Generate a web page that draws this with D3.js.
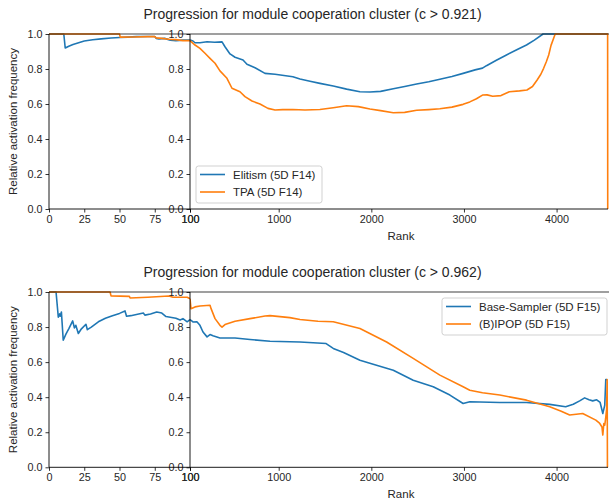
<!DOCTYPE html>
<html>
<head>
<meta charset="utf-8">
<script src="https://cdn.jsdelivr.net/npm/d3@7"></script>
<style>
  body { margin: 0; background: #fff; }
  text { font-family: "Liberation Sans", Arial, Helvetica, sans-serif; fill: #262626; }
</style>
</head>
<body>
<svg id="chart" width="609" height="504"></svg>
<script>
// ---- data ----
const leftTicks = [0, 25, 50, 75, 100];
const rightTicks = [100, 1000, 2000, 3000, 4000];
const yTicks = [0, 0.2, 0.4, 0.6, 0.8, 1.0];
const rankMax = 4555;

const titleTop = "Progression for module cooperation cluster (c > 0.921)";
const titleBottom = "Progression for module cooperation cluster (c > 0.962)";
const seriesNamesTop = ["Elitism (5D F14)", "TPA (5D F14)"];
const seriesNamesBottom = ["Base-Sampler (5D F15)", "(B)IPOP (5D F15)"];

const elitismRanks = [0, 10.5, 11.5, 14, 17, 21, 25, 31, 37, 44, 50, 56, 62, 70, 75, 76, 78, 82, 86, 90, 95, 100,
  130, 151, 201, 273, 350, 425, 455, 506, 557, 638, 678, 760, 861, 963, 1153, 1230, 1338, 1445, 1589, 1733, 1877,
  1985, 2100, 2237, 2360, 2489, 2620, 2740, 2870, 2991, 3120, 3200, 3243, 3350, 3459, 3570, 3675, 3760, 3854, 4555];
const elitismValues = [1, 1, 0.92, 0.93, 0.94, 0.95, 0.96, 0.967, 0.972, 0.977, 0.98, 0.982, 0.985, 0.986, 0.986, 0.975, 0.972, 0.975, 0.965, 0.962, 0.965, 0.966,
  0.96, 0.95, 0.95, 0.956, 0.953, 0.955, 0.927, 0.886, 0.867, 0.851, 0.827, 0.807, 0.775, 0.77, 0.756, 0.743, 0.73, 0.718, 0.703, 0.685, 0.67,
  0.669, 0.672, 0.687, 0.70, 0.714, 0.727, 0.741, 0.757, 0.775, 0.795, 0.805, 0.819, 0.85, 0.88, 0.91, 0.937, 0.965, 1.0, 1.0];

const tpaRanks = [0, 50, 50.5, 60, 70, 75, 76, 80, 85, 90, 95, 100,
  151, 201, 252, 303, 354, 404, 475, 526, 607, 658, 729, 810, 891, 963, 1043, 1153, 1284, 1445, 1589, 1733, 1860, 1985,
  2100, 2237, 2360, 2489, 2620, 2740, 2870, 2991, 3063, 3135, 3200, 3250, 3310, 3400, 3490, 3600, 3680, 3740, 3790,
  3830, 3860, 3888, 3915, 3940, 3985, 4551, 4552];
const tpaValues = [1, 1, 0.982, 0.983, 0.985, 0.985, 0.978, 0.975, 0.97, 0.968, 0.962, 0.962,
  0.937, 0.918, 0.89, 0.861, 0.833, 0.789, 0.747, 0.69, 0.67, 0.642, 0.617, 0.60, 0.575, 0.566, 0.568, 0.569, 0.566, 0.569, 0.579, 0.59, 0.585, 0.571,
  0.562, 0.55, 0.552, 0.564, 0.568, 0.573, 0.582, 0.598, 0.612, 0.63, 0.651, 0.652, 0.644, 0.648, 0.67, 0.675, 0.68, 0.70, 0.737,
  0.77, 0.804, 0.84, 0.88, 0.935, 1.0, 1.0, 0];

const baseRanks = [0, 5, 6.6, 7.5, 8, 8.8, 10.1, 12, 14, 16.8, 18, 19, 20.8, 23, 26.2, 27.2, 30, 35, 40, 45, 50, 53.9, 55, 58, 62,
  66.9, 68, 72, 76.4, 80, 83, 87, 90, 93, 95, 98, 100,
  130, 170, 201, 232, 273, 303, 333, 404, 557, 709, 912, 1230, 1512, 1589, 1700, 1877, 2020,
  2237, 2452, 2560, 2668, 2848, 2991, 3063, 3387, 3675, 3926, 4098, 4180, 4249, 4303, 4350, 4390, 4433, 4470, 4499, 4520, 4531, 4545];
const baseValues = [1, 1, 0.856, 0.875, 0.862, 0.886, 0.725, 0.76, 0.79, 0.835, 0.795, 0.81, 0.763, 0.79, 0.816, 0.785, 0.80, 0.83, 0.85, 0.865, 0.878, 0.892, 0.862, 0.865, 0.872,
  0.88, 0.868, 0.875, 0.886, 0.88, 0.86, 0.855, 0.85, 0.84, 0.848, 0.83, 0.843,
  0.829, 0.83, 0.81, 0.772, 0.744, 0.757, 0.75, 0.738, 0.738, 0.729, 0.719, 0.715, 0.706, 0.678, 0.655, 0.611, 0.588,
  0.554, 0.497, 0.478, 0.459, 0.412, 0.364, 0.374, 0.37, 0.37, 0.359, 0.345, 0.36, 0.379, 0.396, 0.385, 0.379, 0.385, 0.37, 0.307, 0.355, 0.5, 0.5];

const ipopRanks = [0, 43.3, 44, 57, 57.5, 70, 85, 88, 98, 100,
  110, 151, 201, 303, 314, 354, 404, 425, 455, 557, 709, 861, 912, 1120, 1230, 1424, 1589, 1877, 2165, 2452, 2740, 2991, 3063, 3200,
  3387, 3675, 3926, 4050, 4141, 4282, 4424, 4466, 4490, 4499, 4510, 4520, 4530, 4540, 4546, 4549];
const ipopValues = [1, 1, 0.978, 0.975, 0.966, 0.97, 0.977, 0.97, 0.97, 0.962,
  0.905, 0.915, 0.92, 0.924, 0.905, 0.848, 0.81, 0.80, 0.814, 0.833, 0.848, 0.863, 0.865, 0.854, 0.843, 0.833, 0.83, 0.792, 0.715, 0.621, 0.526, 0.459, 0.44, 0.425,
  0.412, 0.383, 0.345, 0.32, 0.298, 0.307, 0.269, 0.25, 0.23, 0.184, 0.25, 0.24, 0.28, 0.33, 0.5, 0.0];

// ---- layout ----
const BLUE = "#1f77b4", ORANGE = "#ff7f0e";
const xL0 = 49, xMid = 190, xR1 = 608;
const panels = [
  { title: titleTop, titleY: 19, top: 34, bottom: 209,
    series: [
      { name: seriesNamesTop[0], ranks: elitismRanks, values: elitismValues, color: BLUE },
      { name: seriesNamesTop[1], ranks: tpaRanks, values: tpaValues, color: ORANGE } ],
    legend: { x: 196, y: 166, w: 126, h: 37 } },
  { title: titleBottom, titleY: 277, top: 292, bottom: 467.3,
    series: [
      { name: seriesNamesBottom[0], ranks: baseRanks, values: baseValues, color: BLUE },
      { name: seriesNamesBottom[1], ranks: ipopRanks, values: ipopValues, color: ORANGE } ],
    legend: { x: 442, y: 298, w: 165, h: 37 } }
];

const svg = d3.select("#chart");
const xLeft = d3.scaleLinear().domain([0, 100]).range([xL0, xMid]);
// rank axis after 100: piecewise linear, the 100..1000 stretch is drawn compressed
const xRight = d3.scaleLinear().domain([100, 1000, rankMax]).range([xMid, 278.7, xR1]);

panels.forEach((p, pi) => {
  const y = d3.scaleLinear().domain([0, 1]).range([p.bottom, p.top]);
  const g = svg.append("g");

  const parts = [
    { x: xLeft, keep: r => r <= 100, x0: xL0, x1: xMid, ticks: leftTicks },
    { x: xRight, keep: r => r >= 100, x0: xMid, x1: xR1 + 1, ticks: rightTicks }
  ];

  parts.forEach((part, k) => {
    const clipId = `clip${pi}_${k}`;
    g.append("clipPath").attr("id", clipId).append("rect")
      .attr("x", part.x0).attr("y", p.top - 2)
      .attr("width", part.x1 - part.x0).attr("height", p.bottom - p.top + 4);

    const line = d3.line().x(d => part.x(d.r)).y(d => y(d.v));
    p.series.forEach(s => {
      const pts = s.ranks.map((r, i) => ({ r, v: s.values[i] })).filter(d => part.keep(d.r));
      g.append("path").datum(pts)
        .attr("clip-path", `url(#${clipId})`)
        .attr("fill", "none").attr("stroke", s.color)
        .attr("stroke-width", 1.6).attr("stroke-linejoin", "round")
        .attr("d", line);
    });

    // y axis
    const ya = g.append("g").attr("transform", `translate(${part.x0},0)`)
      .call(d3.axisLeft(y).tickValues(yTicks).tickFormat(d3.format(".1f")).tickSize(3.5).tickPadding(3));
    // x axis
    const xa = g.append("g").attr("transform", `translate(0,${p.bottom})`)
      .call(d3.axisBottom(part.x).tickValues(part.ticks).tickFormat(d3.format("d")).tickSize(3.5).tickPadding(3));
    [ya, xa].forEach(a => {
      a.select(".domain").remove();
      a.selectAll(".tick line").attr("stroke", "#000").attr("stroke-width", 0.8);
      a.selectAll(".tick text").style("font-size", "10.8px").attr("fill", "#262626");
    });
    // spines
    g.append("line").attr("x1", part.x0).attr("x2", part.x0).attr("y1", p.top).attr("y2", p.bottom)
      .attr("stroke", "#000").attr("stroke-width", 0.9);
  });

  g.append("line").attr("x1", xL0).attr("x2", xR1).attr("y1", p.bottom).attr("y2", p.bottom)
    .attr("stroke", "#000").attr("stroke-width", 0.9);
  // top frame line, semi-transparent over the traces
  g.append("line").attr("x1", xL0).attr("x2", xR1 + 1).attr("y1", p.top).attr("y2", p.top)
    .attr("stroke", "#000").attr("stroke-opacity", 0.5).attr("stroke-width", 1.6);

  // legend
  const L = p.legend;
  const lg = g.append("g").attr("transform", `translate(${L.x},${L.y})`);
  lg.append("rect").attr("width", L.w).attr("height", L.h).attr("rx", 2.5)
    .attr("fill", "#fff").attr("fill-opacity", 0.8).attr("stroke", "#cccccc").attr("stroke-width", 0.9);
  p.series.forEach((s, i) => {
    const ly = 8.5 + i * 17.5;
    lg.append("line").attr("x1", 4).attr("x2", 29).attr("y1", ly).attr("y2", ly)
      .attr("stroke", s.color).attr("stroke-width", 1.6);
    lg.append("text").attr("x", 37).attr("y", ly + 4).style("font-size", "11.5px").text(s.name);
  });

  // titles and labels
  svg.append("text").attr("x", 312.5).attr("y", p.titleY).attr("text-anchor", "middle")
    .style("font-size", "14px").text(p.title);
  svg.append("text").attr("x", (xMid + xR1) / 2 + 2).attr("y", p.bottom + 31)
    .attr("text-anchor", "middle").style("font-size", "11.5px").text("Rank");
  svg.append("text").attr("transform", `translate(17,${(p.top + p.bottom) / 2}) rotate(-90)`)
    .attr("text-anchor", "middle").style("font-size", "11.5px").text("Relative activation frequency");
});
</script>
</body>
</html>
